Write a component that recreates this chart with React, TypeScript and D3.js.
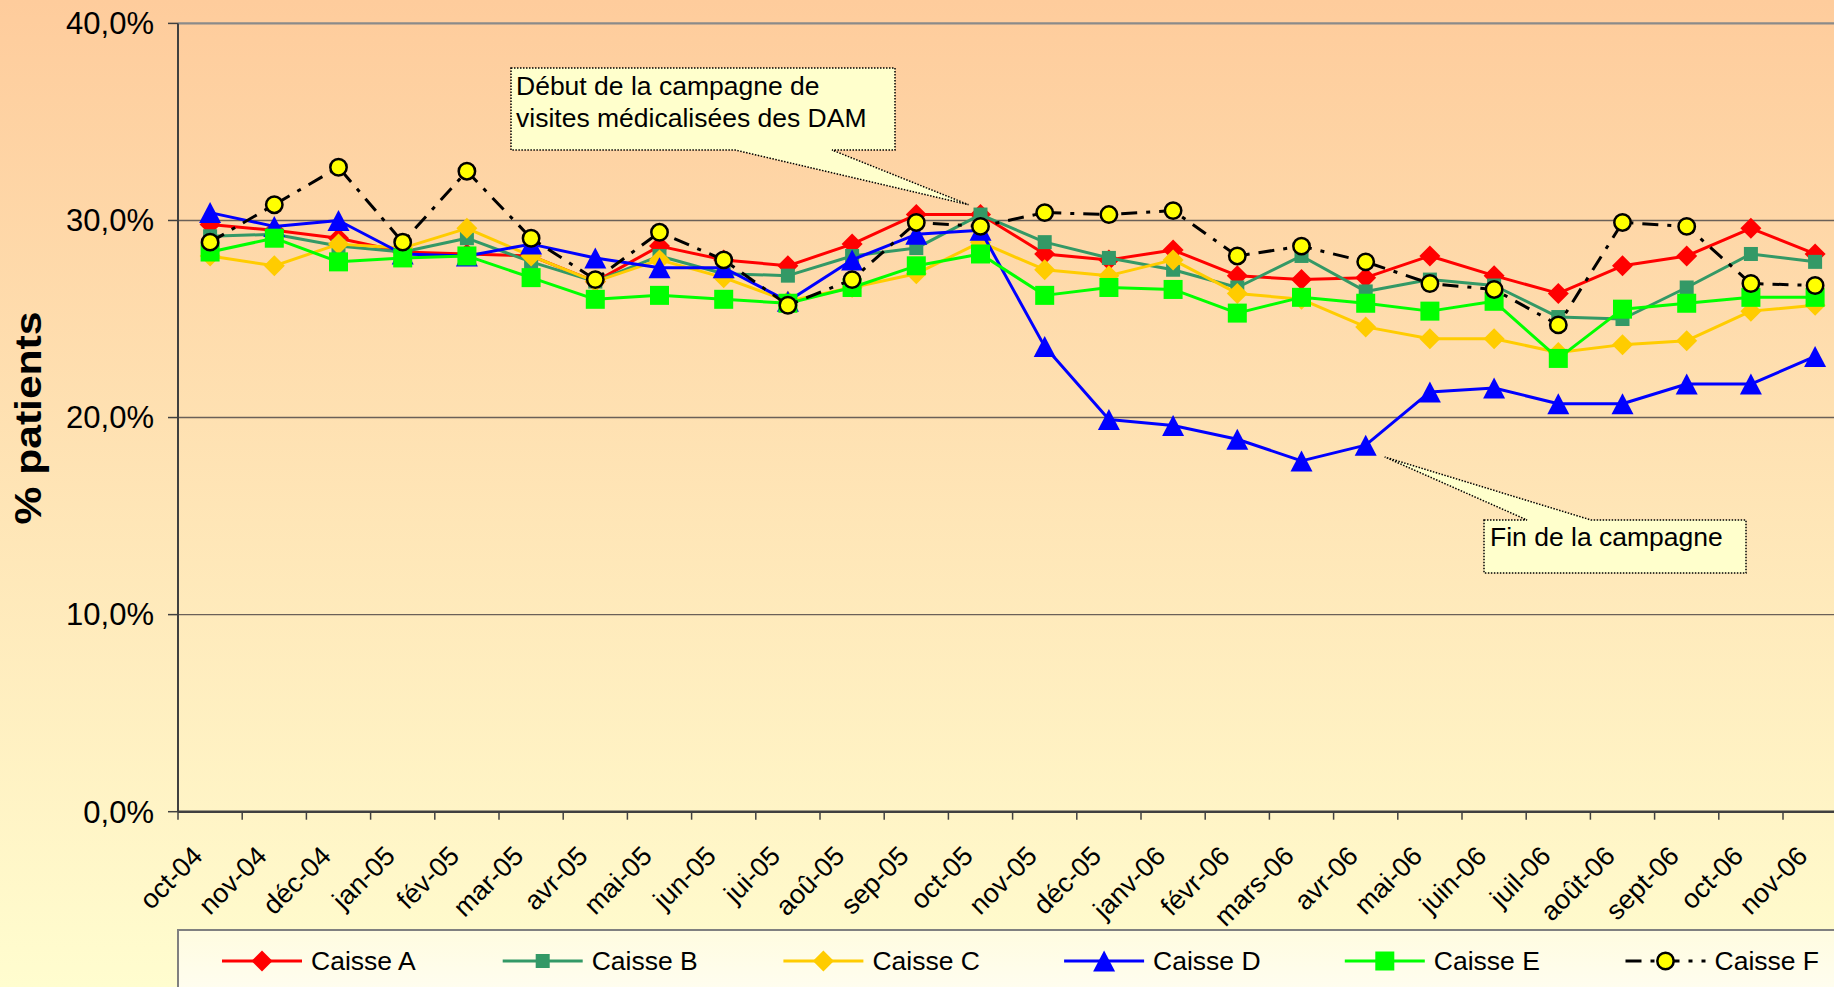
import React from 'react';
import * as d3 from 'd3';

// categories
const months = [
  'oct-04', 'nov-04', 'déc-04', 'jan-05', 'fév-05', 'mar-05', 'avr-05', 'mai-05', 'jun-05',
  'jui-05', 'aoû-05', 'sep-05', 'oct-05', 'nov-05', 'déc-05', 'janv-06', 'févr-06', 'mars-06',
  'avr-06', 'mai-06', 'juin-06', 'juil-06', 'août-06', 'sept-06', 'oct-06', 'nov-06',
];

// % patients per caisse
const caisseA = [29.8, 29.5, 29.1, 28.4, 28.3, 28.2, 26.9, 28.7, 28.0, 27.7, 28.8, 30.3, 30.3, 28.3, 28.0, 28.5, 27.2, 27.0, 27.1, 28.2, 27.2, 26.3, 27.7, 28.2, 29.6, 28.3];
const caisseB = [29.2, 29.3, 28.7, 28.4, 29.1, 27.9, 26.9, 28.2, 27.3, 27.2, 28.2, 28.6, 30.3, 28.9, 28.1, 27.5, 26.6, 28.2, 26.4, 27.0, 26.7, 25.1, 25.0, 26.6, 28.3, 27.9];
const caisseC = [28.2, 27.7, 28.8, 28.6, 29.6, 28.2, 26.9, 28.0, 27.1, 25.9, 26.6, 27.3, 28.9, 27.5, 27.2, 28.0, 26.3, 26.0, 24.6, 24.0, 24.0, 23.3, 23.7, 23.9, 25.4, 25.7];
const caisseD = [30.4, 29.7, 30.0, 28.3, 28.2, 28.8, 28.1, 27.6, 27.6, 25.9, 28.0, 29.3, 29.5, 23.6, 19.9, 19.6, 18.9, 17.8, 18.6, 21.3, 21.5, 20.7, 20.7, 21.7, 21.7, 23.1];
const caisseE = [28.4, 29.1, 27.9, 28.1, 28.2, 27.1, 26.0, 26.2, 26.0, 25.8, 26.6, 27.7, 28.3, 26.2, 26.6, 26.5, 25.3, 26.1, 25.8, 25.4, 25.9, 23.0, 25.5, 25.8, 26.1, 26.1];
const caisseF = [28.9, 30.8, 32.7, 28.9, 32.5, 29.1, 27.0, 29.4, 28.0, 25.7, 27.0, 29.9, 29.7, 30.4, 30.3, 30.5, 28.2, 28.7, 27.9, 26.8, 26.5, 24.7, 29.9, 29.7, 26.8, 26.7];

const seriesNames = ['Caisse A', 'Caisse B', 'Caisse C', 'Caisse D', 'Caisse E', 'Caisse F'];
const yTicks = [0, 10, 20, 30, 40];

const W = 1834;
const H = 987;
const FONT = '"Liberation Sans", Arial, sans-serif';

const left = 178;
const band = 64.2;
const x = d3.scaleBand<string>().domain(months).range([left, left + band * months.length]).padding(0);
const y = d3.scaleLinear().domain([0, 40]).range([811.7, 23.4]);
const cx = (m: string) => (x(m) as number) + x.bandwidth() / 2;
const fmt = (v: number) => d3.format('.1f')(v).replace('.', ',') + '%';

type Marker = 'diamond' | 'square' | 'bigsquare' | 'triangle' | 'circle';
const series: { name: string; values: number[]; color: string; marker: Marker; fill: string; dash?: string }[] = [
  { name: seriesNames[0], values: caisseA, color: '#FF0000', fill: '#FF0000', marker: 'diamond' },
  { name: seriesNames[1], values: caisseB, color: '#339966', fill: '#339966', marker: 'square' },
  { name: seriesNames[2], values: caisseC, color: '#FFCC00', fill: '#FFCC00', marker: 'diamond' },
  { name: seriesNames[3], values: caisseD, color: '#0000FF', fill: '#0000FF', marker: 'triangle' },
  { name: seriesNames[4], values: caisseE, color: '#00FF00', fill: '#00FF00', marker: 'bigsquare' },
  { name: seriesNames[5], values: caisseF, color: '#000000', fill: '#FFFF00', marker: 'circle', dash: '16,9,4,9' },
];

function markerEl(kind: Marker, px: number, py: number, fill: string, key?: React.Key) {
  switch (kind) {
    case 'diamond':
      return <path key={key} d={`M${px},${py - 10.5}L${px + 10.5},${py}L${px},${py + 10.5}L${px - 10.5},${py}Z`} fill={fill} />;
    case 'square':
      return <rect key={key} x={px - 7} y={py - 7} width={14} height={14} fill={fill} />;
    case 'bigsquare':
      return <rect key={key} x={px - 9.5} y={py - 9.5} width={19} height={19} fill={fill} />;
    case 'triangle':
      return <path key={key} d={`M${px},${py - 10.5}L${px + 11},${py + 10.5}L${px - 11},${py + 10.5}Z`} fill={fill} />;
    case 'circle':
      return <circle key={key} cx={px} cy={py} r={8.2} fill={fill} stroke="#000" strokeWidth={2.5} />;
  }
}

const line = d3.line<number>().x((_, i) => cx(months[i])).y(d => y(d));

export default function App() {
  const x0 = left;
  const x1 = W;
  const y0 = y(0);
  const legendY = 961;
  const legendStep = 280.7;

  // callout 1 points to the October 2005 start of the campaign
  const tip1x = cx('oct-05') - 12;
  const tip1y = y(30.8);
  const c1 = `M511,68H895V150H832L${tip1x},${tip1y}L735,150H511Z`;
  // callout 2 points to the end of the campaign
  const tip2x = cx('avr-06') + 19;
  const tip2y = y(18.0);
  const c2 = `M1484,520H1527L${tip2x},${tip2y}L1591,520H1746V573H1484Z`;

  return (
    <div style={{ position: 'fixed', left: 0, top: 0, width: W, height: H, overflow: 'hidden' }}>
      <svg width={W} height={H} style={{ display: 'block', fontFamily: FONT }}>
        <defs>
          <linearGradient id="bg" x1="0" y1="0" x2="0" y2="1">
            <stop offset="0" stopColor="#FECC9C" />
            <stop offset="1" stopColor="#FFFDCF" />
          </linearGradient>
          <linearGradient id="lg" x1="0" y1="0" x2="0" y2="1">
            <stop offset="0" stopColor="#FFFCE0" />
            <stop offset="1" stopColor="#FFFFFF" />
          </linearGradient>
        </defs>
        <rect x={0} y={0} width={W} height={H} fill="url(#bg)" />

        {/* gridlines */}
        {yTicks.filter(t => t > 0).map(t => (
          <line key={t} x1={x0} x2={x1} y1={y(t)} y2={y(t)}
            stroke={t === 40 ? '#8a8a8a' : '#6a6058'} strokeWidth={t === 40 ? 2.2 : 1.4} />
        ))}

        {/* y axis */}
        <line x1={x0} x2={x0} y1={y(40)} y2={y0} stroke="#404040" strokeWidth={2} />
        {yTicks.map(t => (
          <g key={t}>
            <line x1={x0 - 10} x2={x0} y1={y(t)} y2={y(t)} stroke="#404040" strokeWidth={1.5} />
            <text x={154} y={y(t)} dy="0.35em" textAnchor="end" fontSize={31} fill="#000">{fmt(t)}</text>
          </g>
        ))}
        <text transform="translate(41,418) rotate(-90)" textAnchor="middle" fontSize={36} fontWeight="bold"
          textLength={213} lengthAdjust="spacingAndGlyphs">% patients</text>

        {/* x axis */}
        <line x1={x0} x2={x1} y1={y0} y2={y0} stroke="#404040" strokeWidth={2.5} />
        {months.map(m => (
          <line key={'t' + m} x1={x(m)} x2={x(m)} y1={y0} y2={y0 + 8} stroke="#404040" strokeWidth={1.5} />
        ))}
        {months.map(m => (
          <text key={'l' + m} transform={`translate(${cx(m) - 6},${y0 + 46}) rotate(-45)`} textAnchor="end"
            fontSize={27} fill="#000">{m}</text>
        ))}

        {/* series */}
        {series.map(s => (
          <g key={s.name}>
            <path d={line(s.values) || ''} fill="none" stroke={s.color} strokeWidth={3}
              strokeDasharray={s.dash} strokeLinejoin="round" />
            {s.values.map((v, i) => markerEl(s.marker, cx(months[i]), y(v), s.fill, i))}
          </g>
        ))}

        {/* callouts */}
        <path d={c1} fill="#FFFFCC" stroke="#000" strokeWidth={1.5} strokeDasharray="1.5,1.5" />
        <text x={516} y={95} fontSize={26.5}>Début de la campagne de</text>
        <text x={516} y={126.5} fontSize={26.5}>visites médicalisées des DAM</text>
        <path d={c2} fill="#FFFFCC" stroke="#000" strokeWidth={1.5} strokeDasharray="1.5,1.5" />
        <text x={1490} y={546} fontSize={26.5}>Fin de la campagne</text>

        {/* legend */}
        <rect x={x0} y={930} width={W} height={120} fill="url(#lg)" stroke="#808080" strokeWidth={2} />
        {series.map((s, i) => {
          const lx = 222 + i * legendStep;
          return (
            <g key={'lg' + s.name}>
              <line x1={lx} x2={lx + 80} y1={legendY} y2={legendY} stroke={s.color} strokeWidth={3}
                strokeDasharray={s.dash} />
              {markerEl(s.marker, lx + 40, legendY, s.fill)}
              <text x={lx + 89} y={legendY} dy="0.35em" fontSize={26.5}>{s.name}</text>
            </g>
          );
        })}
      </svg>
    </div>
  );
}
